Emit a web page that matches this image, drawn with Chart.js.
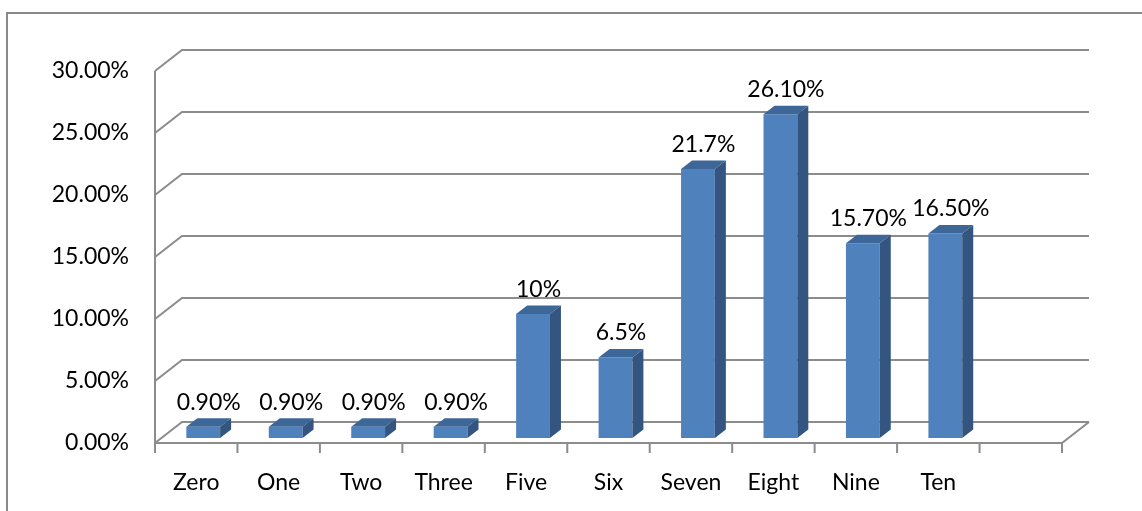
<!DOCTYPE html>
<html>
<head>
<meta charset="utf-8">
<script src="https://cdn.jsdelivr.net/npm/chart.js@4.4.1/dist/chart.umd.min.js"></script>
<style>
  html, body { margin: 0; padding: 0; background: #fff; }
  #wrap { width: 1142px; height: 511px; }
</style>
</head>
<body>
<div id="wrap"><canvas id="chart" width="1142" height="511"></canvas></div>
<script>
// values
const categories = ['Zero', 'One', 'Two', 'Three', 'Five', 'Six', 'Seven', 'Eight', 'Nine', 'Ten', ''];
const shares = [0.9, 0.9, 0.9, 0.9, 10, 6.5, 21.7, 26.1, 15.7, 16.5, null];
const shareLabels = ['0.90%', '0.90%', '0.90%', '0.90%', '10%', '6.5%', '21.7%', '26.10%', '15.70%', '16.50%', ''];
const yTicks = [0, 5, 10, 15, 20, 25, 30];

// fake 3d look (Excel style)
const WALL = { dx: 27, dy: -21 };
const BAR_SHIFT = { dx: 7, dy: -5 };
const BAR_DEPTH = { dx: 11, dy: -8.5 };
const GRID = '#8c8c8c';
const FONT = '23px Lato, "Open Sans", sans-serif';

const fake3d = {
  id: 'fake3d',
  beforeDraw(chart) {
    const ctx = chart.ctx;
    ctx.save();
    ctx.strokeStyle = '#8a8a8a';
    ctx.lineWidth = 2;
    ctx.strokeRect(7, 13, chart.width + 20, chart.height + 20);
    ctx.restore();
  },
  beforeDatasetsDraw(chart) {
    const { ctx, chartArea: a, scales: { x, y } } = chart;
    ctx.save();
    ctx.strokeStyle = GRID;
    ctx.lineWidth = 2;
    ctx.beginPath();
    yTicks.forEach(v => {
      const py = y.getPixelForValue(v);
      ctx.moveTo(a.left, py);
      ctx.lineTo(a.left + WALL.dx, py + WALL.dy);
      ctx.lineTo(a.right + WALL.dx, py + WALL.dy);
    });
    // left axis + floor front edge
    ctx.moveTo(a.left, a.top);
    ctx.lineTo(a.left, a.bottom);
    ctx.lineTo(a.right, a.bottom);
    ctx.lineTo(a.right + WALL.dx, a.bottom + WALL.dy);
    // category tick marks
    const slot = (a.right - a.left) / categories.length;
    for (let i = 0; i <= categories.length; i++) {
      const px = x.getPixelForValue(0) - slot / 2 + i * slot;
      ctx.moveTo(px, a.bottom);
      ctx.lineTo(px, a.bottom + 10);
    }
    ctx.stroke();
    ctx.restore();

    ctx.save();
    ctx.translate(BAR_SHIFT.dx, BAR_SHIFT.dy);
  },
  afterDatasetsDraw(chart) {
    const ctx = chart.ctx;
    const meta = chart.getDatasetMeta(0);
    meta.data.forEach((bar, i) => {
      if (shares[i] == null) return;
      const { x, y, base, width } = bar.getProps(['x', 'y', 'base', 'width'], true);
      const l = x - width / 2, r = x + width / 2;
      ctx.fillStyle = '#3d6799';
      ctx.beginPath();
      ctx.moveTo(l, y);
      ctx.lineTo(l + BAR_DEPTH.dx, y + BAR_DEPTH.dy);
      ctx.lineTo(r + BAR_DEPTH.dx, y + BAR_DEPTH.dy);
      ctx.lineTo(r, y);
      ctx.closePath();
      ctx.fill();
      ctx.fillStyle = '#34557f';
      ctx.beginPath();
      ctx.moveTo(r, y);
      ctx.lineTo(r + BAR_DEPTH.dx, y + BAR_DEPTH.dy);
      ctx.lineTo(r + BAR_DEPTH.dx, base + BAR_DEPTH.dy);
      ctx.lineTo(r, base);
      ctx.closePath();
      ctx.fill();
    });
    ctx.restore();

    // value labels
    ctx.save();
    ctx.font = FONT;
    ctx.fillStyle = '#000';
    ctx.textAlign = 'center';
    ctx.textBaseline = 'alphabetic';
    meta.data.forEach((bar, i) => {
      if (shares[i] == null) return;
      const cx = bar.x + BAR_SHIFT.dx + BAR_DEPTH.dx / 2;
      const ty = bar.y + BAR_SHIFT.dy - 17;
      ctx.fillText(shareLabels[i], cx, ty);
    });
    ctx.restore();
  }
};

new Chart(document.getElementById('chart'), {
  type: 'bar',
  data: {
    labels: categories,
    datasets: [{
      data: shares,
      backgroundColor: '#4f81bd',
      borderWidth: 0,
      barPercentage: 0.41,
      categoryPercentage: 1
    }]
  },
  options: {
    responsive: false,
    animation: false,
    layout: { padding: { top: 71, right: 80, left: 0, bottom: 0 } },
    plugins: { legend: { display: false }, tooltip: { enabled: false } },
    scales: {
      x: {
        grid: { display: false, drawTicks: false },
        border: { display: false },
        ticks: { color: '#000', font: { family: 'Lato', size: 23 }, padding: 26, maxRotation: 0, autoSkip: false },
        afterFit(s) { s.height = 68; }
      },
      y: {
        min: 0, max: 30,
        grid: { display: false, drawTicks: false },
        border: { display: false },
        ticks: {
          stepSize: 5, color: '#000', padding: 26,
          font: { family: 'Lato', size: 23 },
          callback: v => v.toFixed(2) + '%'
        },
        afterFit(s) { s.width = 155; }
      }
    }
  },
  plugins: [fake3d]
});
</script>
</body>
</html>
